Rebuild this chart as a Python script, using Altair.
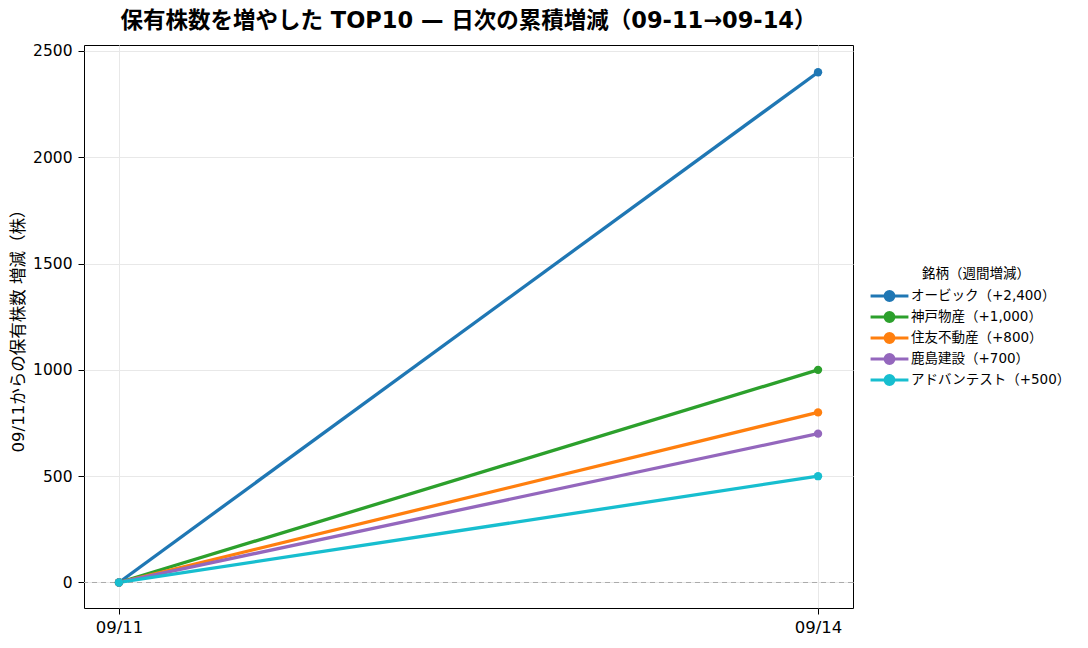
import altair as alt
import pandas as pd

dates = ["09/11", "09/14"]
stocks = ["オービック（+2,400）", "神戸物産（+1,000）", "住友不動産（+800）", "鹿島建設（+700）", "アドバンテスト（+500）"]
start_vals = [0, 0, 0, 0, 0]
end_vals = [2400, 1000, 800, 700, 500]
colors = ["#1f77b4", "#2ca02c", "#ff7f0e", "#9467bd", "#17becf"]

rows = []
for i, s in enumerate(stocks):
    rows.append({"date": dates[0], "stock": s, "value": start_vals[i], "order": i})
    rows.append({"date": dates[1], "stock": s, "value": end_vals[i], "order": i})
df = pd.DataFrame(rows)

FONT = "DejaVu Sans, Noto Sans CJK JP"

x_enc = alt.X("date:O", sort=dates, scale=alt.Scale(type="point", padding=0.05),
              axis=alt.Axis(title=None, labelAngle=0, labelFontSize=16.5, grid=True,
                            gridColor="#e8e8e8", tickColor="black", tickSize=6,
                            domain=False, labelPadding=5))
y_enc = alt.Y("value:Q", scale=alt.Scale(domain=[-120, 2528], nice=False, zero=False),
              axis=alt.Axis(title="09/11からの保有株数 増減（株）", values=[0, 500, 1000, 1500, 2000, 2500],
                            format="d", titleFontSize=16.5, titleFontWeight="normal", labelFontSize=15.5,
                            gridColor="#e8e8e8", tickColor="black", tickSize=6, domain=False,
                            titlePadding=6, labelPadding=6))

color_enc = alt.Color(
    "stock:N",
    sort=stocks,
    scale=alt.Scale(domain=stocks, range=colors),
    legend=alt.Legend(
        title="銘柄（週間増減）",
        orient="none",
        legendX=798,
        legendY=222,
        titleFontSize=13.5,
        titleFontWeight="normal",
        titleAnchor="middle",
        labelFontSize=13.5,
        labelOffset=14,
        symbolType="M-3.2,0H3.2M-0.75,0A0.75,0.75 0 1,0 0.75,0A0.75,0.75 0 1,0 -0.75,0",
        symbolSize=140,
        symbolStrokeWidth=3,
        rowPadding=0,
        titlePadding=8,
    ),
)

lines = alt.Chart(df).mark_line(strokeWidth=3.3, point=alt.OverlayMarkDef(size=70, filled=True, opacity=1)).encode(
    x=x_enc, y=y_enc, color=color_enc, order="order:Q"
)

zero = alt.Chart(pd.DataFrame({"v": [0]})).mark_rule(color="#aaaaaa", strokeDash=[5, 4], strokeWidth=1).encode(
    y="v:Q"
)

chart = (
    alt.layer(zero, lines)
    .properties(
        width=769,
        height=563,
        autosize=alt.AutoSizeParams(type="none"),
        padding={"left": 76, "top": 37, "right": 220, "bottom": 40},
        title=alt.Title(
            "保有株数を増やした TOP10 — 日次の累積増減（09-11→09-14）",
            fontSize=22.5,
            fontWeight="bold",
            frame="group",
            anchor="middle",
            offset=11,
            font=FONT,
        ),
    )
    .configure(font=FONT)
    .configure_view(stroke="black", strokeWidth=1)
    .configure_axis(labelFont=FONT, titleFont=FONT, labelColor="black", titleColor="black")
    .configure_legend(labelFont=FONT, titleFont=FONT, labelColor="black", titleColor="black")
)

chart.save("out.html", embed_options={"renderer": "svg", "actions": False})
